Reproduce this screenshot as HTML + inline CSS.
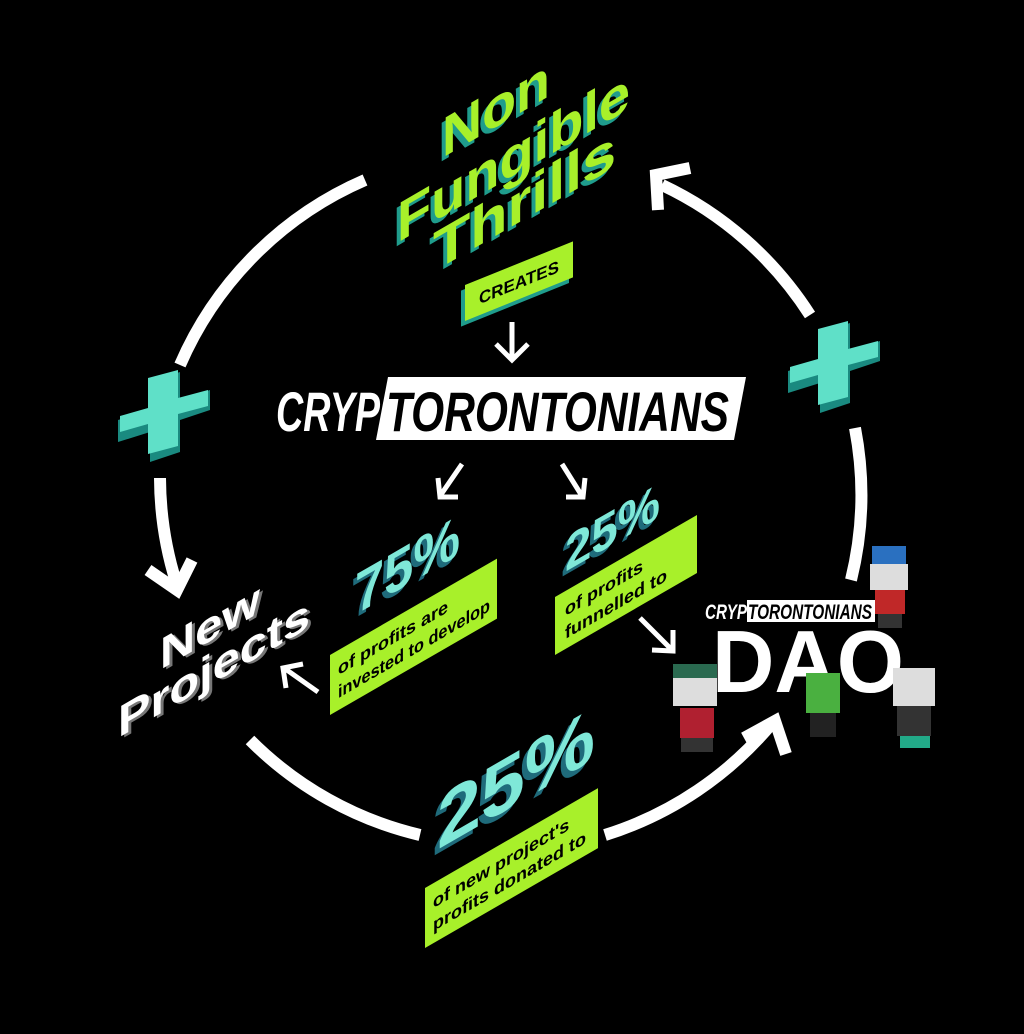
<!DOCTYPE html>
<html><head><meta charset="utf-8"><style>
html,body{margin:0;padding:0;background:#000;}
svg{display:block}
text{font-family:"Liberation Sans",sans-serif}
</style></head><body>
<svg width="1024" height="1034" viewBox="0 0 1024 1034">
<rect width="1024" height="1034" fill="#000"/>
<g fill="none" stroke="#fff" stroke-width="12" stroke-linecap="butt">
  <path d="M365,180 A355,355 0 0 0 180,365"/>
  <path d="M160,478 A355,355 0 0 0 176,582"/>
  <path d="M250,740 A355,355 0 0 0 420,835"/>
  <path d="M605,835 A355,355 0 0 0 773,722"/>
  <path d="M855,428 A355,355 0 0 1 851,580"/>
  <path d="M810,315 A355,355 0 0 0 662,185"/>
  <polyline points="148,570 177,590 192,560"/>
  <polyline points="744,738 775,721 786,754"/>
  <polyline points="658,210 656,175 690,168"/>
  <path d="M512,322 V358 M496,344 L512,360 L528,344" stroke-width="5"/>
  <path d="M462,464 L440,496 M438,478 L440,497 L458,497" stroke-width="5"/>
  <path d="M562,464 L582,496 M566,497 L583,497 L585,478" stroke-width="5"/>
  <path d="M318,692 L284,668 M286,688 L283,668 L303,664" stroke-width="5"/>
  <path d="M640,618 L672,650 M652,650 L673,651 L673,630" stroke-width="5"/>
</g>

<!-- title -->
<g font-weight="bold" font-size="56">
  <g transform="translate(442,158) skewY(-30)">
    <text x="-4" y="3" fill="#1f9c8c" textLength="108" lengthAdjust="spacingAndGlyphs">Non</text>
    <text x="0" y="0" fill="#a8f02a" textLength="108" lengthAdjust="spacingAndGlyphs">Non</text>
  </g>
  <g transform="translate(397,243) skewY(-30)">
    <text x="-4" y="3" fill="#1f9c8c" textLength="233" lengthAdjust="spacingAndGlyphs">Fungible</text>
    <text x="0" y="0" fill="#a8f02a" textLength="233" lengthAdjust="spacingAndGlyphs">Fungible</text>
  </g>
  <g transform="translate(433,272) skewY(-30)">
    <text x="-4" y="3" fill="#1f9c8c" textLength="183" lengthAdjust="spacingAndGlyphs">Thrills</text>
    <text x="0" y="0" fill="#a8f02a" textLength="183" lengthAdjust="spacingAndGlyphs">Thrills</text>
  </g>
</g>
<g transform="translate(465,285) skewY(-22)">
  <rect x="-4" y="4" width="108" height="36" fill="#1f9c8c"/>
  <rect x="0" y="0" width="108" height="36" fill="#a8f02a"/>
  <text x="54" y="25" font-size="17" font-weight="bold" text-anchor="middle" fill="#000">CREATES</text>
</g>

<!-- logo -->
<g>
  <polygon points="388,377 746,377 734,440 376,440" fill="#fff"/>
  <text x="276" y="431" font-size="56" font-weight="bold" font-style="italic" fill="#fff" textLength="104" lengthAdjust="spacingAndGlyphs">CRYP</text>
  <text x="386" y="431" font-size="56" font-weight="bold" font-style="italic" fill="#000" textLength="343" lengthAdjust="spacingAndGlyphs">TORONTONIANS</text>
</g>

<!-- 75% -->
<g transform="translate(355,615) skewY(-30)" font-weight="bold" font-size="58">
  <text x="-4" y="3" fill="#1f6b7b" textLength="105" lengthAdjust="spacingAndGlyphs">75%</text>
  <text x="0" y="0" fill="#7fe8d8" textLength="105" lengthAdjust="spacingAndGlyphs">75%</text>
</g>
<g transform="translate(330,655) skewY(-30)">
  <rect x="0" y="0" width="167" height="60" fill="#a8f02a"/>
  <text x="8" y="25" font-size="18" font-weight="bold" fill="#000">of profits are</text>
  <text x="8" y="48" font-size="18" font-weight="bold" fill="#000" textLength="152" lengthAdjust="spacingAndGlyphs">invested to develop</text>
</g>

<!-- 25% top -->
<g transform="translate(565,572) skewY(-30)" font-weight="bold" font-size="50">
  <text x="-4" y="3" fill="#1f6b7b" textLength="95" lengthAdjust="spacingAndGlyphs">25%</text>
  <text x="0" y="0" fill="#7fe8d8" textLength="95" lengthAdjust="spacingAndGlyphs">25%</text>
</g>
<g transform="translate(555,597) skewY(-30)">
  <rect x="0" y="0" width="142" height="58" fill="#a8f02a"/>
  <text x="10" y="25" font-size="18" font-weight="bold" fill="#000">of profits</text>
  <text x="10" y="48" font-size="18" font-weight="bold" fill="#000">funnelled to</text>
</g>

<!-- 25% bottom -->
<g transform="translate(437,850) skewY(-30)" font-weight="bold" font-size="76">
  <text x="-5" y="4" fill="#1f6b7b" textLength="158" lengthAdjust="spacingAndGlyphs">25%</text>
  <text x="0" y="0" fill="#7fe8d8" textLength="158" lengthAdjust="spacingAndGlyphs">25%</text>
</g>
<g transform="translate(425,888) skewY(-30)">
  <rect x="0" y="0" width="173" height="60" fill="#a8f02a"/>
  <text x="8" y="25" font-size="18" font-weight="bold" fill="#000">of new project's</text>
  <text x="8" y="48" font-size="18" font-weight="bold" fill="#000">profits donated to</text>
</g>

<!-- New Projects -->
<g font-weight="bold" font-size="44">
  <g transform="translate(160,670) skewY(-30)">
    <text x="3" y="3" fill="#777" textLength="100" lengthAdjust="spacingAndGlyphs">New</text>
    <text x="0" y="0" fill="#fff" textLength="100" lengthAdjust="spacingAndGlyphs">New</text>
  </g>
  <g transform="translate(118,738) skewY(-30)">
    <text x="3" y="3" fill="#777" textLength="192" lengthAdjust="spacingAndGlyphs">Projects</text>
    <text x="0" y="0" fill="#fff" textLength="192" lengthAdjust="spacingAndGlyphs">Projects</text>
  </g>
</g>

<!-- plus signs -->
<g>
  <polygon points="150,382 180,372 180,400 210,390 210,410 180,420 180,452 150,462 150,432 118,442 118,420 150,410" fill="#1a8a80"/>
  <polygon points="148,378 178,370 178,398 208,390 208,406 178,414 178,446 148,454 148,424 120,432 120,416 148,408" fill="#5fe0c8"/>
</g>
<g>
  <polygon points="820,333 850,323 850,351 880,341 880,361 850,371 850,403 820,413 820,383 788,393 788,371 820,361" fill="#1a8a80"/>
  <polygon points="818,329 848,321 848,349 878,341 878,357 848,365 848,397 818,405 818,375 790,383 790,367 818,359" fill="#5fe0c8"/>
</g>

<!-- DAO -->
<g>
  <rect x="747" y="600" width="128" height="22" fill="#fff"/>
  <text x="705" y="619" font-size="21" font-weight="bold" font-style="italic" fill="#fff" textLength="42" lengthAdjust="spacingAndGlyphs">CRYP</text>
  <text x="748" y="619" font-size="21" font-weight="bold" font-style="italic" fill="#000" textLength="124" lengthAdjust="spacingAndGlyphs">TORONTONIANS</text>
  <text x="712" y="692" font-size="88" font-weight="bold" fill="#fff" textLength="192" lengthAdjust="spacingAndGlyphs">DAO</text>
</g>

<!-- characters (approximate) -->
<g>
  <rect x="673" y="664" width="44" height="42" fill="#ddd"/><rect x="673" y="664" width="44" height="14" fill="#2a6a50"/>
  <rect x="680" y="708" width="34" height="30" fill="#b02030"/><rect x="681" y="738" width="32" height="14" fill="#333"/>
</g>
<g>
  <rect x="806" y="673" width="34" height="40" fill="#4ab040"/><rect x="810" y="713" width="26" height="24" fill="#222"/>
</g>
<g>
  <rect x="893" y="668" width="42" height="38" fill="#ddd"/><rect x="897" y="706" width="34" height="30" fill="#333"/><rect x="900" y="736" width="30" height="12" fill="#2a8"/>
</g>
<g>
  <rect x="872" y="546" width="34" height="20" fill="#2a70c0"/><rect x="870" y="564" width="38" height="26" fill="#ddd"/><rect x="875" y="590" width="30" height="24" fill="#c02828"/><rect x="878" y="614" width="24" height="14" fill="#333"/>
</g>
</svg>
</body></html>
